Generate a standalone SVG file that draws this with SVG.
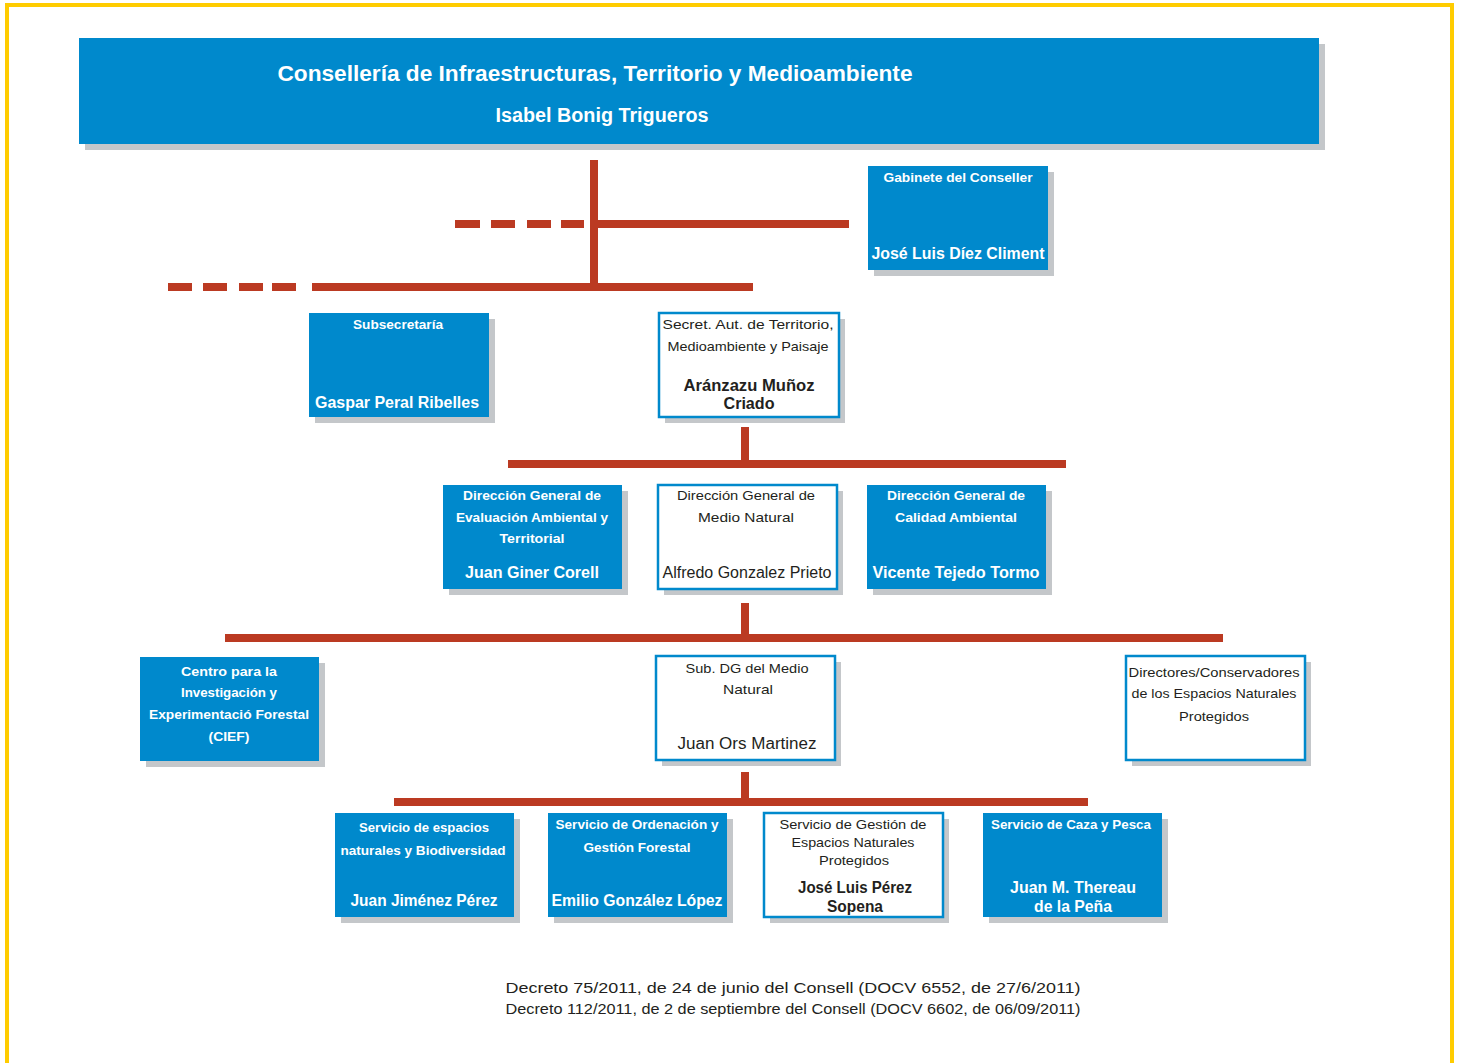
<svg xmlns="http://www.w3.org/2000/svg" width="1460" height="1063" viewBox="0 0 1460 1063">
<style>
.sh{fill:#C4C7CA}
.bx{fill:#0089CC}
.wb{fill:#FFFFFF;stroke:#0089CC;stroke-width:2.5}
.t{font-family:"Liberation Sans",Arial,sans-serif;text-anchor:middle}
.w{fill:#FFFFFF;font-weight:bold}
.k{fill:#231F20}
.s13{font-size:13px}
.s16{font-size:16px}
.ln{stroke:#BB3A22;stroke-width:8;fill:none}
.dl{stroke:#BB3A22;stroke-width:8;fill:none}
</style>
<rect width="1460" height="1063" fill="#FFFFFF"/>
<path d="M7 1063 V5 H1452 V1063" fill="none" stroke="#FFCC00" stroke-width="4"/>

<g id="connectors">
<line class="ln" x1="594" y1="160" x2="594" y2="291"/>
<line class="ln" x1="590" y1="224" x2="849" y2="224"/>
<path class="dl" d="M455 224H480M491 224H515M527 224H551M561 224H584"/>
<line class="ln" x1="312" y1="287" x2="753" y2="287"/>
<path class="dl" d="M168 287H192M203 287H227M239 287H263M272 287H296"/>
<line class="ln" x1="745" y1="427" x2="745" y2="464"/>
<line class="ln" x1="508" y1="464" x2="1066" y2="464"/>
<line class="ln" x1="745" y1="603" x2="745" y2="638"/>
<line class="ln" x1="225" y1="638" x2="1223" y2="638"/>
<line class="ln" x1="745" y1="772" x2="745" y2="802"/>
<line class="ln" x1="394" y1="802" x2="1088" y2="802"/>
</g>

<g id="conselleria">
<rect class="sh" x="85" y="44" width="1240" height="106"/>
<rect class="bx" x="79" y="38" width="1240" height="106"/>
<text class="t w" x="595" y="81" font-size="22" textLength="635" lengthAdjust="spacingAndGlyphs">Consellería de Infraestructuras, Territorio y Medioambiente</text>
<text class="t w" x="602" y="122" font-size="20" textLength="213" lengthAdjust="spacingAndGlyphs">Isabel Bonig Trigueros</text>
</g>

<g id="gabinete">
<rect class="sh" x="874" y="172" width="180" height="104"/>
<rect class="bx" x="868" y="166" width="180" height="104"/>
<text class="t w s13" x="958" y="182" textLength="149" lengthAdjust="spacingAndGlyphs">Gabinete del Conseller</text>
<text class="t w s16" x="958" y="259" textLength="173" lengthAdjust="spacingAndGlyphs">José Luis Díez Climent</text>
</g>

<g id="subsecretaria">
<rect class="sh" x="315" y="319" width="180" height="104"/>
<rect class="bx" x="309" y="313" width="180" height="104"/>
<text class="t w s13" x="398" y="329" textLength="90" lengthAdjust="spacingAndGlyphs">Subsecretaría</text>
<text class="t w s16" x="397" y="408" textLength="164" lengthAdjust="spacingAndGlyphs">Gaspar Peral Ribelles</text>
</g>

<g id="secretaria">
<rect class="sh" x="665" y="319" width="180" height="104"/>
<rect class="wb" x="659" y="313" width="180" height="104"/>
<text class="t k s13" x="748" y="329" textLength="171" lengthAdjust="spacingAndGlyphs">Secret. Aut. de Territorio,</text>
<text class="t k s13" x="748" y="351" textLength="161" lengthAdjust="spacingAndGlyphs">Medioambiente y Paisaje</text>
<text class="t k s16" x="749" y="391" font-weight="bold" textLength="131" lengthAdjust="spacingAndGlyphs">Aránzazu Muñoz</text>
<text class="t k s16" x="749" y="409" font-weight="bold" textLength="51" lengthAdjust="spacingAndGlyphs">Criado</text>
</g>

<g id="dg-evaluacion">
<rect class="sh" x="449" y="491" width="179" height="104"/>
<rect class="bx" x="443" y="485" width="179" height="104"/>
<text class="t w s13" x="532" y="500" textLength="138" lengthAdjust="spacingAndGlyphs">Dirección General de</text>
<text class="t w s13" x="532" y="522" textLength="152" lengthAdjust="spacingAndGlyphs">Evaluación Ambiental y</text>
<text class="t w s13" x="532" y="543" textLength="65" lengthAdjust="spacingAndGlyphs">Territorial</text>
<text class="t w s16" x="532" y="578" textLength="134" lengthAdjust="spacingAndGlyphs">Juan Giner Corell</text>
</g>

<g id="dg-medio-natural">
<rect class="sh" x="664" y="491" width="179" height="104"/>
<rect class="wb" x="658" y="485" width="179" height="104"/>
<text class="t k s13" x="746" y="500" textLength="138" lengthAdjust="spacingAndGlyphs">Dirección General de</text>
<text class="t k s13" x="746" y="522" textLength="96" lengthAdjust="spacingAndGlyphs">Medio Natural</text>
<text class="t k s16" x="747" y="578" textLength="169" lengthAdjust="spacingAndGlyphs">Alfredo Gonzalez Prieto</text>
</g>

<g id="dg-calidad">
<rect class="sh" x="873" y="491" width="179" height="104"/>
<rect class="bx" x="867" y="485" width="179" height="104"/>
<text class="t w s13" x="956" y="500" textLength="138" lengthAdjust="spacingAndGlyphs">Dirección General de</text>
<text class="t w s13" x="956" y="522" textLength="122" lengthAdjust="spacingAndGlyphs">Calidad Ambiental</text>
<text class="t w s16" x="956" y="578" textLength="167" lengthAdjust="spacingAndGlyphs">Vicente Tejedo Tormo</text>
</g>

<g id="cief">
<rect class="sh" x="146" y="663" width="179" height="104"/>
<rect class="bx" x="140" y="657" width="179" height="104"/>
<text class="t w s13" x="229" y="676" textLength="96" lengthAdjust="spacingAndGlyphs">Centro para la</text>
<text class="t w s13" x="229" y="697" textLength="96" lengthAdjust="spacingAndGlyphs">Investigación y</text>
<text class="t w s13" x="229" y="719" textLength="160" lengthAdjust="spacingAndGlyphs">Experimentació Forestal</text>
<text class="t w s13" x="229" y="741" textLength="41" lengthAdjust="spacingAndGlyphs">(CIEF)</text>
</g>

<g id="sub-dg-medio-natural">
<rect class="sh" x="662" y="662" width="179" height="104"/>
<rect class="wb" x="656" y="656" width="179" height="104"/>
<text class="t k s13" x="747" y="673" textLength="123" lengthAdjust="spacingAndGlyphs">Sub. DG del Medio</text>
<text class="t k s13" x="748" y="694" textLength="50" lengthAdjust="spacingAndGlyphs">Natural</text>
<text class="t k s16" x="747" y="749" textLength="139" lengthAdjust="spacingAndGlyphs">Juan Ors Martinez</text>
</g>

<g id="directores">
<rect class="sh" x="1132" y="662" width="179" height="104"/>
<rect class="wb" x="1126" y="656" width="179" height="104"/>
<text class="t k s13" x="1214" y="677" textLength="171" lengthAdjust="spacingAndGlyphs">Directores/Conservadores</text>
<text class="t k s13" x="1214" y="698" textLength="165" lengthAdjust="spacingAndGlyphs">de los Espacios Naturales</text>
<text class="t k s13" x="1214" y="721" textLength="70" lengthAdjust="spacingAndGlyphs">Protegidos</text>
</g>

<g id="servicio-espacios">
<rect class="sh" x="341" y="819" width="179" height="104"/>
<rect class="bx" x="335" y="813" width="179" height="104"/>
<text class="t w s13" x="424" y="832" textLength="130" lengthAdjust="spacingAndGlyphs">Servicio de espacios</text>
<text class="t w s13" x="423" y="855" textLength="165" lengthAdjust="spacingAndGlyphs">naturales y Biodiversidad</text>
<text class="t w s16" x="424" y="906" textLength="147" lengthAdjust="spacingAndGlyphs">Juan Jiménez Pérez</text>
</g>

<g id="servicio-ordenacion">
<rect class="sh" x="554" y="819" width="179" height="104"/>
<rect class="bx" x="548" y="813" width="179" height="104"/>
<text class="t w s13" x="637" y="829" textLength="163" lengthAdjust="spacingAndGlyphs">Servicio de Ordenación y</text>
<text class="t w s13" x="637" y="852" textLength="107" lengthAdjust="spacingAndGlyphs">Gestión Forestal</text>
<text class="t w s16" x="637" y="906" textLength="171" lengthAdjust="spacingAndGlyphs">Emilio González López</text>
</g>

<g id="servicio-gestion">
<rect class="sh" x="770" y="819" width="179" height="104"/>
<rect class="wb" x="764" y="813" width="179" height="104"/>
<text class="t k s13" x="853" y="829" textLength="147" lengthAdjust="spacingAndGlyphs">Servicio de Gestión de</text>
<text class="t k s13" x="853" y="847" textLength="123" lengthAdjust="spacingAndGlyphs">Espacios Naturales</text>
<text class="t k s13" x="854" y="865" textLength="70" lengthAdjust="spacingAndGlyphs">Protegidos</text>
<text class="t k s16" x="855" y="893" font-weight="bold" textLength="114" lengthAdjust="spacingAndGlyphs">José Luis Pérez</text>
<text class="t k s16" x="855" y="912" font-weight="bold" textLength="56" lengthAdjust="spacingAndGlyphs">Sopena</text>
</g>

<g id="servicio-caza">
<rect class="sh" x="989" y="819" width="179" height="104"/>
<rect class="bx" x="983" y="813" width="179" height="104"/>
<text class="t w s13" x="1071" y="829" textLength="160" lengthAdjust="spacingAndGlyphs">Servicio de Caza y Pesca</text>
<text class="t w s16" x="1073" y="893" textLength="126" lengthAdjust="spacingAndGlyphs">Juan M. Thereau</text>
<text class="t w s16" x="1073" y="912" textLength="78" lengthAdjust="spacingAndGlyphs">de la Peña</text>
</g>

<g id="footer">
<text class="t k" x="793" y="993" font-size="14" textLength="575" lengthAdjust="spacingAndGlyphs">Decreto 75/2011, de 24 de junio del Consell (DOCV 6552, de 27/6/2011)</text>
<text class="t k" x="793" y="1014" font-size="14" textLength="575" lengthAdjust="spacingAndGlyphs">Decreto 112/2011, de 2 de septiembre del Consell (DOCV 6602, de 06/09/2011)</text>
</g>
</svg>
